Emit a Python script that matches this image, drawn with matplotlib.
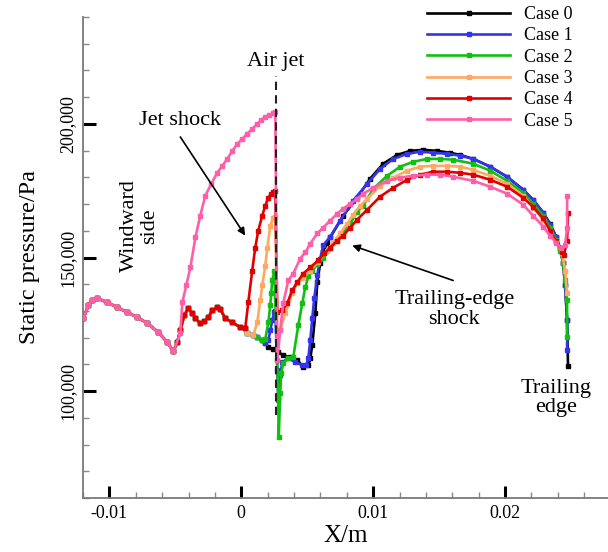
import numpy as np
import matplotlib
matplotlib.use('Agg')
import matplotlib.pyplot as plt
from matplotlib.ticker import FixedLocator, MultipleLocator, FixedFormatter

plt.rcParams['font.family'] = ['Liberation Serif', 'DejaVu Serif']

# X in mm, static pressure in kPa (converted to m and Pa when plotted)
common_x = [-11.97, -11.59, -11.29, -10.91, -10.15, -9.39, -8.64, -7.88, -7.12, -6.29, -5.61, -5.15]
common_p = [127.2, 132.1, 134.0, 134.7, 133.2, 131.3, 129.5, 127.6, 125.4, 122.0, 118.3, 114.9]

wiggle_x = [-4.85, -4.62, -4.32, -4.02, -3.71, -3.48, -3.11, -2.80, -2.50, -2.20, -1.82, -1.59,
            -1.21, -0.68, -0.08, 0.30]
wiggle_p = [118.3, 122.8, 128.4, 131.0, 129.1, 127.2, 125.4, 126.1, 127.6, 130.2, 131.3, 130.6,
            127.2, 125.7, 123.9, 123.5]

case0_x = [0.45, 0.91, 1.21, 1.59, 1.82, 2.05, 2.42, 2.80, 3.18, 3.71, 4.24, 4.70, 5.08, 5.23, 5.38,
           5.61, 5.76, 5.98, 6.21, 6.52, 6.74, 7.73, 8.79, 9.77, 10.76, 11.82, 12.80, 13.79, 14.85,
           15.83, 16.59, 17.58, 18.86, 20.15, 21.36, 22.12, 22.88, 23.41, 23.86, 24.17, 24.39, 24.55,
           24.70, 24.77]
case0_p = [121.6, 120.9, 120.1, 119.0, 117.9, 116.4, 115.7, 114.6, 113.4, 112.7, 111.6, 109.0, 109.7,
           112.3, 117.2, 129.1, 140.7, 147.8, 151.9, 155.6, 157.5, 165.7, 172.4, 179.5, 185.1, 188.4,
           189.9, 190.3, 189.9, 189.2, 188.4, 186.9, 184.0, 180.2, 175.4, 171.6, 166.8, 162.7, 157.8,
           153.4, 148.1, 139.6, 126.5, 109.3]

case1_x = [0.45, 0.91, 1.21, 1.59, 1.82, 2.05, 2.20, 2.35, 2.50, 2.58, 2.73, 2.80, 2.95, 3.11, 3.56,
           4.09, 4.62, 4.92, 5.08, 5.23, 5.38, 5.53, 5.76, 5.98, 6.21, 6.74, 7.50, 8.48, 9.55, 10.53,
           11.52, 12.58, 13.56, 14.55, 15.61, 16.59, 17.58, 18.86, 20.15, 21.36, 22.12, 22.88, 23.41,
           23.86, 24.17, 24.39, 24.55, 24.70, 24.70]
case1_p = [121.6, 120.9, 120.1, 119.0, 117.9, 119.0, 122.8, 126.5, 129.5, 129.9, 107.8, 97.4, 106.0,
           110.8, 112.3, 110.8, 109.7, 109.7, 112.3, 119.0, 127.2, 134.7, 143.3, 149.6, 154.5, 157.8,
           163.8, 171.3, 177.6, 183.2, 186.9, 188.8, 189.6, 189.2, 188.8, 188.1, 186.9, 184.0, 180.2,
           175.4, 171.6, 166.8, 162.3, 157.8, 153.4, 148.1, 139.6, 126.5, 115.3]

case2_x = [0.45, 0.91, 1.21, 1.59, 1.82, 2.05, 2.20, 2.27, 2.35, 2.50, 2.73, 2.80, 2.84, 2.95, 3.03,
           3.18, 3.56, 3.94, 4.32, 4.62, 4.85, 5.08, 5.38, 5.76, 6.21, 6.74, 7.27, 7.73, 8.26, 8.79,
           9.24, 10.00, 11.06, 12.05, 13.03, 14.09, 15.08, 16.06, 17.58, 18.86, 20.15, 21.36, 22.12,
           22.88, 23.41, 23.86, 24.17, 24.39, 24.55, 24.70, 24.70]
case2_p = [121.6, 120.9, 120.1, 119.0, 119.4, 125.7, 132.1, 136.9, 141.4, 144.8, 111.6, 96.6, 82.8,
           99.3, 106.7, 110.4, 112.3, 112.7, 124.6, 132.8, 138.8, 142.9, 145.1, 147.4, 150.0, 153.4,
           156.3, 159.3, 162.7, 167.2, 169.4, 175.7, 180.6, 184.0, 185.8, 186.9, 186.9, 186.6, 185.1,
           182.5, 178.7, 174.3, 170.1, 165.7, 161.2, 156.7, 152.6, 148.1, 141.4, 134.0, 120.1]

case3_x = [0.45, 0.91, 1.21, 1.44, 1.59, 1.82, 1.97, 2.20, 2.42, 2.58, 2.73, 2.95, 3.33, 3.86, 4.24,
           4.70, 5.23, 5.83, 6.52, 6.97, 7.50, 8.03, 8.48, 9.02, 9.55, 10.53, 11.52, 12.58, 13.56,
           14.55, 15.61, 16.59, 17.58, 18.86, 20.15, 21.36, 22.12, 22.88, 23.41, 23.86, 24.32, 24.55,
           24.70]
case3_p = [121.6, 120.9, 125.7, 134.0, 139.6, 147.0, 153.4, 161.9, 164.9, 165.3, 119.0, 122.8, 129.1,
           136.6, 140.3, 142.5, 145.1, 148.5, 152.6, 155.6, 159.0, 162.7, 166.0, 169.4, 172.0, 176.9,
           179.9, 182.5, 184.0, 184.3, 184.3, 184.0, 182.8, 180.6, 177.6, 173.1, 168.7, 164.2, 160.1,
           156.0, 151.5, 145.1, 136.6]

case4_x = [0.53, 0.83, 1.06, 1.29, 1.59, 1.82, 2.05, 2.27, 2.42, 2.58, 2.73, 3.11, 3.48, 3.86, 4.24,
           4.70, 5.23, 5.83, 6.29, 6.74, 7.27, 7.73, 8.26, 8.79, 9.55, 10.53, 11.52, 12.58, 13.56,
           14.55, 15.61, 16.59, 17.58, 18.86, 20.15, 21.36, 22.12, 22.88, 23.41, 23.86, 24.32, 24.47,
           24.70, 24.77]
case4_p = [133.2, 145.1, 153.7, 160.1, 165.7, 169.4, 172.4, 173.9, 174.6, 175.0, 129.5, 130.2, 132.8,
           137.7, 140.7, 144.0, 146.3, 148.9, 151.5, 153.7, 156.3, 158.2, 161.2, 164.2, 167.9, 172.8,
           176.1, 179.1, 181.0, 182.1, 182.1, 181.7, 181.0, 179.1, 176.5, 172.4, 169.0, 164.6, 160.1,
           156.0, 152.2, 151.1, 156.3, 166.8]

case5_x = [-4.62, -4.47, -4.17, -3.86, -3.48, -3.11, -2.73, -2.27, -1.82, -1.44, -1.06, -0.68, -0.30,
           0.08, 0.45, 0.83, 1.21, 1.52, 1.82, 2.12, 2.42, 2.58, 2.73, 2.95, 3.18, 3.56, 3.94, 4.47,
           4.85, 5.23, 5.76, 6.21, 6.74, 7.27, 7.73, 8.26, 8.79, 9.24, 10.00, 11.06, 12.05, 13.03,
           14.09, 15.08, 16.06, 17.58, 18.86, 20.15, 21.36, 22.12, 22.88, 23.41, 23.86, 24.24, 24.55,
           24.70, 24.70]
case5_p = [121.6, 133.2, 139.6, 146.3, 157.5, 165.7, 173.1, 177.6, 181.7, 184.3, 186.9, 189.9, 192.5,
           194.4, 196.3, 198.1, 200.0, 201.5, 202.6, 203.4, 204.1, 204.5, 111.6, 122.8, 132.8, 141.4,
           144.0, 149.6, 151.9, 155.2, 159.0, 161.2, 163.8, 166.4, 168.3, 170.1, 172.0, 173.9, 176.1,
           178.7, 179.9, 180.6, 181.0, 181.0, 180.2, 178.7, 176.5, 173.9, 169.8, 165.7, 161.6, 158.2,
           155.6, 153.4, 154.5, 161.2, 173.1]

labels = ['Case 0', 'Case 1', 'Case 2', 'Case 3', 'Case 4', 'Case 5']
colors = ['#000000', '#3434ee', '#10c010', '#ffa860', '#e00000', '#ff5fa8']

x_ticks = [-0.01, 0.0, 0.01, 0.02]
x_tick_labels = ['-0.01', '0', '0.01', '0.02']
y_ticks = [100000, 150000, 200000]
y_tick_labels = ['100,000', '150,000', '200,000']

jet_x = 2.6        # mm, air-jet location
jet_p_range = [91.0, 218.0]  # kPa

series = [
    (common_x + wiggle_x + case0_x, common_p + wiggle_p + case0_p),
    (common_x + wiggle_x + case1_x, common_p + wiggle_p + case1_p),
    (common_x + wiggle_x + case2_x, common_p + wiggle_p + case2_p),
    (common_x + wiggle_x + case3_x, common_p + wiggle_p + case3_p),
    (common_x + wiggle_x + case4_x, common_p + wiggle_p + case4_p),
    (common_x + case5_x, common_p + case5_p),
]

fig = plt.figure(figsize=(6.08, 5.52), dpi=100)
ax = fig.add_axes([83 / 608, 54 / 552, 525 / 608, 481 / 552])

for (xs, ps), lab, col in zip(series, labels, colors):
    ax.plot(np.array(xs) * 1e-3, np.array(ps) * 1e3, color=col, lw=1.9, marker='s', ms=3.2,
            mfc=col, mec=col, label=lab, zorder=3)

ax.plot([jet_x * 1e-3] * 2, np.array(jet_p_range) * 1e3, color='#222222', lw=1.5,
        ls=(0, (4, 2.5)), zorder=4)

ax.set_xlim(-0.012, 0.0278)
ax.set_ylim(60000, 240000)

ax.xaxis.set_major_locator(FixedLocator(x_ticks))
ax.xaxis.set_major_formatter(FixedFormatter(x_tick_labels))
ax.xaxis.set_minor_locator(MultipleLocator(0.002))
ax.yaxis.set_major_locator(FixedLocator(y_ticks))
ax.yaxis.set_major_formatter(FixedFormatter(y_tick_labels))
ax.yaxis.set_minor_locator(MultipleLocator(10000))

for s in ['top', 'right']:
    ax.spines[s].set_visible(False)
for s in ['left', 'bottom']:
    ax.spines[s].set_color('#7a7a7a')
    ax.spines[s].set_linewidth(1.3)

ax.tick_params(which='major', direction='in', length=9, width=2.2, color='black',
               labelsize=13, pad=5)
ax.tick_params(which='minor', direction='in', length=4.5, width=1.0, color='#888888')
for t in ax.get_yticklabels():
    t.set_rotation(90)
    t.set_va('center')

ax.set_xlabel('X/m', fontsize=18, labelpad=2)
ax.set_ylabel('Static pressure/Pa', fontsize=17.5, labelpad=14)

# annotations
ax.text(0.00265, 223500, 'Air jet', fontsize=16, ha='center', va='center')
ax.text(-0.00462, 201100, 'Jet shock', fontsize=16, ha='center', va='center')
ax.annotate('', xy=(0.0003, 158200), xytext=(-0.00462, 195100),
            arrowprops=dict(arrowstyle='-|>', color='black', lw=1.2, mutation_scale=11,
                            shrinkA=0, shrinkB=0))
ax.text(-0.00773, 161900, 'Windward\nside', fontsize=16, ha='center', va='center',
        rotation=90, multialignment='center', linespacing=1.05)
ax.text(0.01614, 130600, 'Trailing-edge\nshock', fontsize=16, ha='center', va='center',
        multialignment='center', linespacing=1.05)
ax.annotate('', xy=(0.00841, 154500), xytext=(0.01606, 141400),
            arrowprops=dict(arrowstyle='-|>', color='black', lw=1.2, mutation_scale=11,
                            shrinkA=0, shrinkB=0))
ax.text(0.02386, 97400, 'Trailing\nedge', fontsize=16, ha='center', va='center',
        multialignment='center', linespacing=1.05)

leg = ax.legend(loc='upper left', bbox_to_anchor=(427 / 608, 1 - 6 / 552),
                bbox_transform=fig.transFigure, frameon=False, fontsize=13,
                handlelength=4.6, handletextpad=0.8, labelspacing=0.24, borderpad=0,
                borderaxespad=0, numpoints=1)

fig.savefig('out.png', dpi=100)
